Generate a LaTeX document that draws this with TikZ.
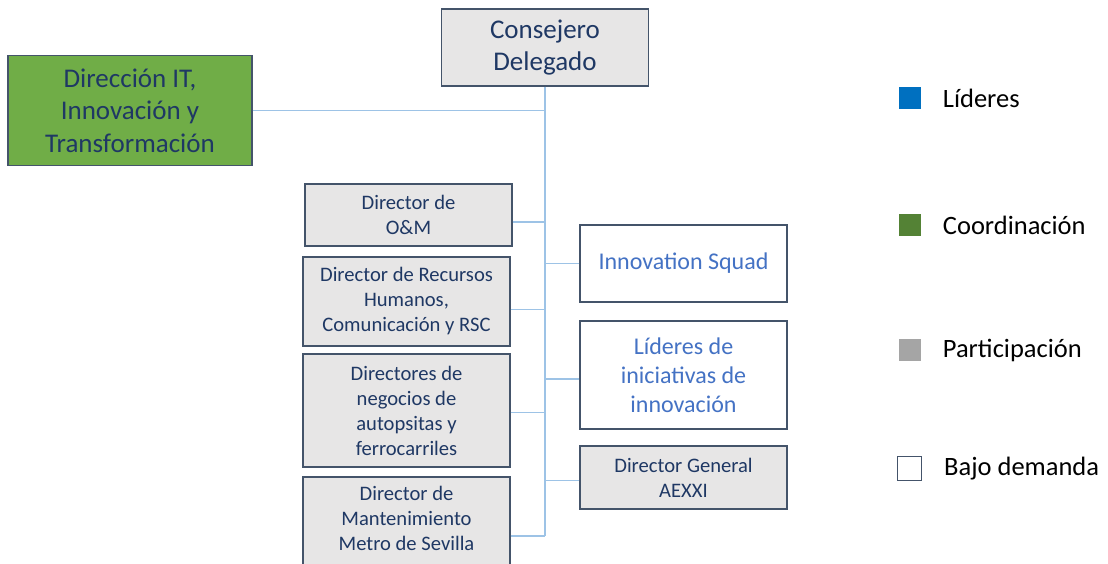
\documentclass[tikz,border=0pt]{standalone}
\usepackage{fontspec}
\setmainfont{Carlito}
\usepackage{tikz}
\usetikzlibrary{positioning}
\definecolor{navytext}{HTML}{1F3864}
\definecolor{boxline}{HTML}{44546A}
\definecolor{boxgray}{HTML}{E7E6E6}
\definecolor{boxgreen}{HTML}{70AD47}
\definecolor{squadblue}{HTML}{4472C4}
\definecolor{linkblue}{HTML}{9DC3E6}
\definecolor{legblue}{HTML}{0070C0}
\definecolor{leggreen}{HTML}{548235}
\definecolor{leggray}{HTML}{A5A5A5}

\begin{document}
\begin{tikzpicture}[
    x=1pt, y=-1pt,
    box/.style={draw=boxline, line width=1.1pt, inner sep=0pt, align=center, text=navytext},
    graybox/.style={box, fill=boxgray},
    bigfont/.style={font=\fontsize{27}{32.5}\selectfont},
    smallfont/.style={font=\fontsize{20.6}{25}\selectfont},
    squadbox/.style={box, fill=white, text=squadblue, font=\fontsize{24}{29}\selectfont},
    link/.style={draw=linkblue, line width=1.1pt},
    legsq/.style={minimum size=22pt, inner sep=0pt},
    legtext/.style={right=22pt of #1, anchor=west, inner sep=0pt, font=\fontsize{26.5}{30}\selectfont}
]
\useasboundingbox (0,0) rectangle (1108,564);

% top of the chart
\node[graybox, bigfont, minimum width=207pt, minimum height=77pt] (ceo) at (545,47.5) {Consejero\\Delegado};
\node[box, bigfont, fill=boxgreen, minimum width=244pt, minimum height=110pt] (dit) at (130,110.5) {Dirección IT,\\Innovación y\\Transformación};

% left column
\node[graybox, smallfont, minimum width=207pt, minimum height=62pt] (om) at (408.5,215) {Director de\\O\&M};
\node[graybox, smallfont, minimum width=207pt, minimum height=89pt] (rrhh) at (406.5,301.5) {Director de Recursos\\Humanos,\\Comunicación y RSC};
\node[graybox, smallfont, minimum width=207pt, minimum height=113pt] (neg) at (406.5,410.5) {Directores de\\negocios de\\autopsitas y\\ferrocarriles};
\node[graybox, smallfont, minimum width=207pt, minimum height=118pt] (mant) at (406.5,536) {};
\node[smallfont, text=navytext, align=center, anchor=north, inner sep=0pt] (manttext) at (406.5,486) {Director de\\Mantenimiento\\Metro de Sevilla};

% right column
\node[squadbox, minimum width=207pt, minimum height=77pt] (squad) at (683.5,263.5) {Innovation Squad};
\node[squadbox, minimum width=207pt, minimum height=108pt] (lid) at (683.5,375) {Líderes de\\iniciativas de\\innovación};
\node[graybox, smallfont, minimum width=207pt, minimum height=63pt] (aexxi) at (683.5,477.5) {Director General\\AEXXI};

% connectors
\draw[link] (ceo.south) -- (ceo.south |- mant.east);
\draw[link] (dit.east) -- (dit.east -| ceo.south);
\draw[link] ([yshift=-7pt]om.east) -- ([yshift=-7pt]om.east -| ceo.south);
\draw[link] ([yshift=-8pt]rrhh.east) -- ([yshift=-8pt]rrhh.east -| ceo.south);
\draw[link] ([yshift=-2pt]neg.east) -- ([yshift=-2pt]neg.east -| ceo.south);
\draw[link] (mant.east) -- (mant.east -| ceo.south);
\draw[link] (squad.west) -- (squad.west -| ceo.south);
\draw[link] ([yshift=-4pt]lid.west) -- ([yshift=-4pt]lid.west -| ceo.south);
\draw[link] ([yshift=-3pt]aexxi.west) -- ([yshift=-3pt]aexxi.west -| ceo.south);

% legend
\node[legsq, fill=legblue] (leg1) at (909.5,98) {};
\node[legtext=leg1] (leg1t) {Líderes};
\node[legsq, fill=leggreen] (leg2) at (909.5,225) {};
\node[legtext=leg2] (leg2t) {Coordinación};
\node[legsq, fill=leggray] (leg3) at (909.5,350) {};
\node[legtext=leg3] (leg3t) {Participación};
\node[legsq, draw=boxline, line width=1pt, fill=white, minimum size=24pt] (leg4) at (909.5,468.5) {};
\node[legtext=leg4] (leg4t) {Bajo demanda};
\end{tikzpicture}
\end{document}
